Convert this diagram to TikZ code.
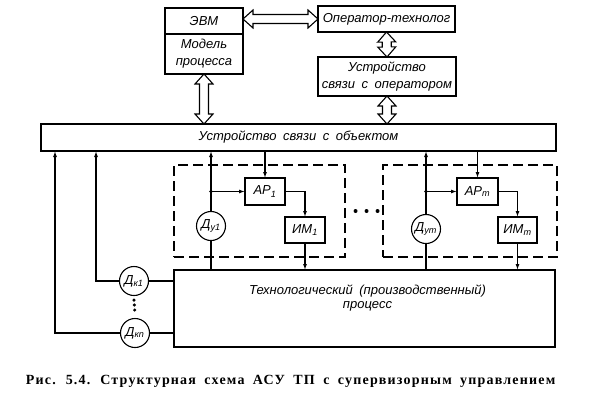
\documentclass[tikz,border=0pt]{standalone}
\usepackage{fontspec}
\setmainfont{Liberation Serif}
\newfontfamily\schemefont[WordSpace=1.8]{Liberation Sans}
\newfontfamily\capfont[LetterSpace=8.5, WordSpace=1.8]{Liberation Serif}
\newcommand{\blockfont}{\schemefont\itshape\fontsize{13}{17}\selectfont}
\usetikzlibrary{arrows.meta, positioning, calc}

\begin{document}
\begin{tikzpicture}[x=1pt, y=-1pt, line width=1.1pt,
	block/.style={draw, outer sep=0pt, inner sep=1pt, font=\blockfont, align=center},
	sensor/.style={draw, circle, minimum size=29pt, inner sep=0pt, font=\blockfont},
	group/.style={draw, dash pattern=on 10pt off 5pt, minimum height=92pt},
	sig/.style={-{Latex[length=6pt, width=4pt]}},
	dbl/.style={line join=miter, to path={
		(\tikztostart)
		-- ($(\tikztostart)!10pt!(\tikztotarget)!9pt!90:(\tikztotarget)$)
		-- ($(\tikztostart)!10pt!(\tikztotarget)!4.5pt!90:(\tikztotarget)$)
		-- ($(\tikztotarget)!10pt!(\tikztostart)!4.5pt!-90:(\tikztostart)$)
		-- ($(\tikztotarget)!10pt!(\tikztostart)!9pt!-90:(\tikztostart)$)
		-- (\tikztotarget)
		-- ($(\tikztotarget)!10pt!(\tikztostart)!9pt!90:(\tikztostart)$)
		-- ($(\tikztotarget)!10pt!(\tikztostart)!4.5pt!90:(\tikztostart)$)
		-- ($(\tikztostart)!10pt!(\tikztotarget)!4.5pt!-90:(\tikztotarget)$)
		-- ($(\tikztostart)!10pt!(\tikztotarget)!9pt!-90:(\tikztotarget)$)
		-- cycle}},
	vdots/.style={line width=3.4pt, line cap=round, dash pattern=on 0pt off 5pt},
	hdots/.style={line width=4pt, line cap=round, dash pattern=on 0pt off 11pt},
	]
	\useasboundingbox (0,0) rectangle (597,413);

	% upper level
	\node[block, minimum width=78pt, minimum height=26pt] (evm) at (204,21) {ЭВМ};
	\node[block, minimum width=78pt, minimum height=40pt, below=0pt of evm] (model) {Модель\\процесса};
	\node[block, minimum width=137pt, minimum height=26pt] (oper) at (386.5,19) {Оператор-технолог};
	\node[block, minimum width=138pt, minimum height=39pt] (usvo) at (387,76.5) {Устройство\\связи с оператором};
	\node[block, minimum width=515pt, minimum height=27pt] (usob) at (298.5,137.5) {Устройство связи с объектом};
	\node[block, minimum width=381pt, minimum height=77pt] (proc) at (364.5,308.5) {};
	\node[font=\schemefont\itshape\fontsize{13}{14}\selectfont, align=center] (proctext) at ([xshift=3pt, yshift=10pt]proc.center) {Технологический (производственный)\\процесс};

	\draw[dbl] (oper.west -| evm.east) to (oper.west);
	\draw[dbl] (oper.south) to (usvo.north);
	\draw[dbl] (usvo.south) to (usvo.south |- usob.north);
	\draw[dbl] (model.south) to (model.south |- usob.north);

	% local loops
	\node[group, minimum width=171pt] (grp1) at (259.5,211) {};
	\node[group, minimum width=174pt] (grpm) at (470,211) {};
	\draw[hdots] ([xshift=10pt]grp1.east) -- ([xshift=-4pt]grpm.west);

	\node[block, minimum width=40pt, minimum height=27pt] (ap1) at (265,191.5) {АР\textsubscript{1}};
	\node[block, minimum width=40pt, minimum height=26pt] (im1) at (305,230) {ИМ\textsubscript{1}};
	\node[sensor] (du1) at (211,226) {Д\textsubscript{у1}};
	\node[block, minimum width=41pt, minimum height=27pt] (apm) at (477.5,191.5) {АР\textsubscript{m}};
	\node[block, minimum width=39pt, minimum height=26pt] (imm) at (517.5,230) {ИМ\textsubscript{m}};
	\node[sensor] (dum) at (426,229) {Д\textsubscript{уm}};

	\coordinate (j1) at (du1 |- ap1.west);
	\coordinate (jm) at (dum |- apm.west);
	\fill (j1) circle (1.8pt) (jm) circle (1.8pt);

	\draw[sig] (du1.north) -- (du1.north |- usob.south);
	\draw (du1.south) -- (du1.south |- proc.north);
	\draw[sig] (j1) -- (ap1.west);
	\draw[sig] (ap1.north |- usob.south) -- (ap1.north);
	\draw[sig] (ap1.east) -| (im1.north);
	\draw[sig] (im1.south) -- (im1.south |- proc.north);

	\draw[sig] (dum.north) -- (dum.north |- usob.south);
	\draw (dum.south) -- (dum.south |- proc.north);
	\draw[sig] (jm) -- (apm.west);
	\draw[sig] (apm.north |- usob.south) -- (apm.north);
	\draw[sig] (apm.east) -| (imm.north);
	\draw[sig] (imm.south) -- (imm.south |- proc.north);

	% control sensors
	\node[sensor] (dk1) at (134,281) {Д\textsubscript{к1}};
	\node[sensor] (dkn) at (135,333) {Д\textsubscript{кn}};
	\coordinate (tap1) at (96,0);
	\coordinate (tapn) at (55,0);
	\draw[vdots] ([yshift=-4pt]dk1.south) -- ([yshift=4pt]dkn.north);

	\draw[sig] (dk1.west) -| (usob.south -| tap1);
	\draw[sig] (dkn.west) -| (usob.south -| tapn);
	\draw (dk1.east) -- (dk1.east -| proc.west);
	\draw (dkn.east) -- (dkn.east -| proc.west);

	\node[font=\capfont\bfseries\fontsize{14}{16}\selectfont, anchor=west] (caption) at (22,381) {Рис. 5.4. Структурная схема АСУ ТП с супервизорным управлением};

\end{tikzpicture}
\end{document}
